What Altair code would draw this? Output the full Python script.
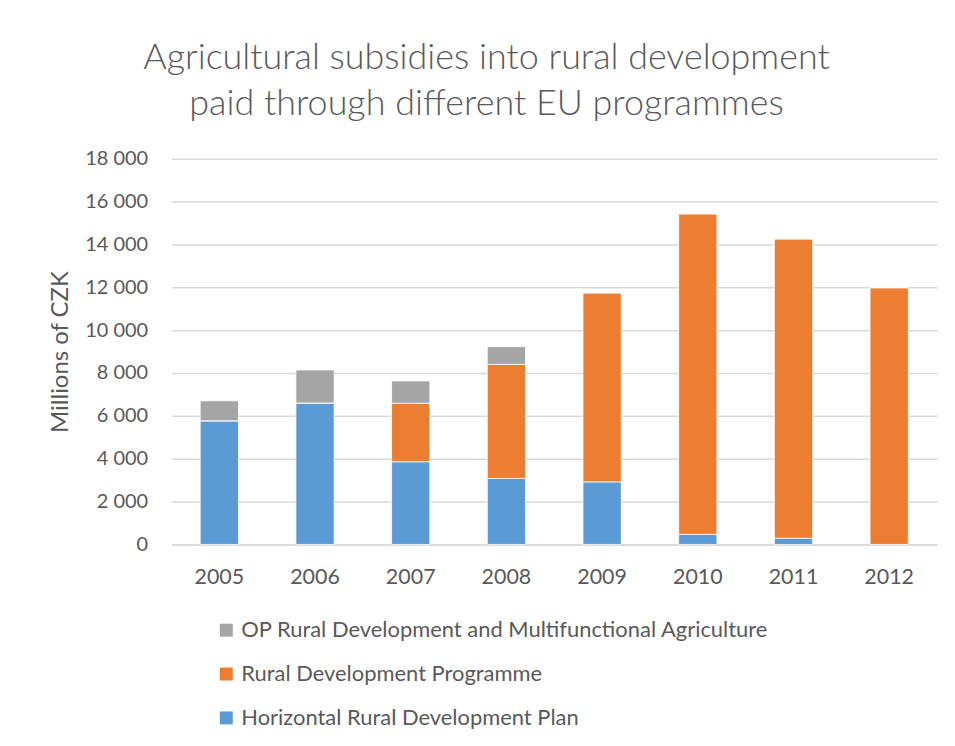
import altair as alt
import pandas as pd

years = ["2005", "2006", "2007", "2008", "2009", "2010", "2011", "2012"]
hrdp = [5770, 6600, 3860, 3080, 2920, 470, 290, 0]
rdp = [0, 0, 2730, 5320, 8820, 14960, 13970, 11980]
op = [930, 1540, 1040, 830, 0, 0, 0, 0]

series = [
    "OP Rural Development and Multifunctional Agriculture",
    "Rural Development Programme",
    "Horizontal Rural Development Plan",
]
colors = ["#A5A5A5", "#ED7D31", "#5B9BD5"]
stack_idx = {series[2]: 0, series[1]: 1, series[0]: 2}

rows = []
for i, y in enumerate(years):
    for name, vals in [(series[2], hrdp), (series[1], rdp), (series[0], op)]:
        rows.append({"year": y, "series": name, "value": vals[i], "idx": stack_idx[name]})
df = pd.DataFrame(rows)

FONT = "Lato"
GREY = "#595959"

chart = alt.Chart(df).mark_bar(stroke="white", strokeWidth=0.8).encode(
    x=alt.X("year:N", title=None, sort=years,
            scale=alt.Scale(paddingInner=0.6, paddingOuter=0.3),
            axis=alt.Axis(labelAngle=0, labelFontSize=21.5, labelColor=GREY, labelFont=FONT,
                          ticks=False, domain=True, domainColor="#D9D9D9", domainWidth=1.5,
                          labelPadding=22, grid=False)),
    y=alt.Y("value:Q", title="Millions of CZK", stack="zero",
            scale=alt.Scale(domain=[0, 18000], nice=False),
            axis=alt.Axis(values=list(range(0, 18001, 2000)),
                          labelExpr="replace(format(datum.value, ','), ',', ' ')",
                          labelFontSize=20, labelColor=GREY, labelFont=FONT,
                          ticks=False, domain=False, labelPadding=24,
                          gridColor="#D9D9D9", gridWidth=1.5,
                          titleFontSize=24, titleColor=GREY, titleFont=FONT,
                          titleFontWeight="normal", titlePadding=12)),
    color=alt.Color("series:N", scale=alt.Scale(domain=series, range=colors),
                    legend=alt.Legend(title=None, orient="none", legendX=44, legendY=462,
                                      direction="vertical", symbolType="square",
                                      symbolSize=169, symbolStrokeWidth=0,
                                      labelFontSize=22, labelColor=GREY, labelFont=FONT,
                                      rowPadding=22, labelLimit=800, labelOffset=4)),
    order=alt.Order("idx:Q", sort="ascending"),
).properties(
    width=768,
    height=387,
    title=alt.Title(
        ["Agricultural subsidies into rural development", "paid through different EU programmes"],
        fontSize=36, font=FONT, fontWeight=300, color=GREY, anchor="middle",
        frame="group", dx=-68, offset=26, lineHeight=46,
    ),
    autosize=alt.AutoSizeParams(type="none"),
    padding={"left": 164, "top": 150, "right": 10, "bottom": 190},
).configure_view(stroke=None)

chart.save("out.html", embed_options={"renderer": "svg", "actions": False})
